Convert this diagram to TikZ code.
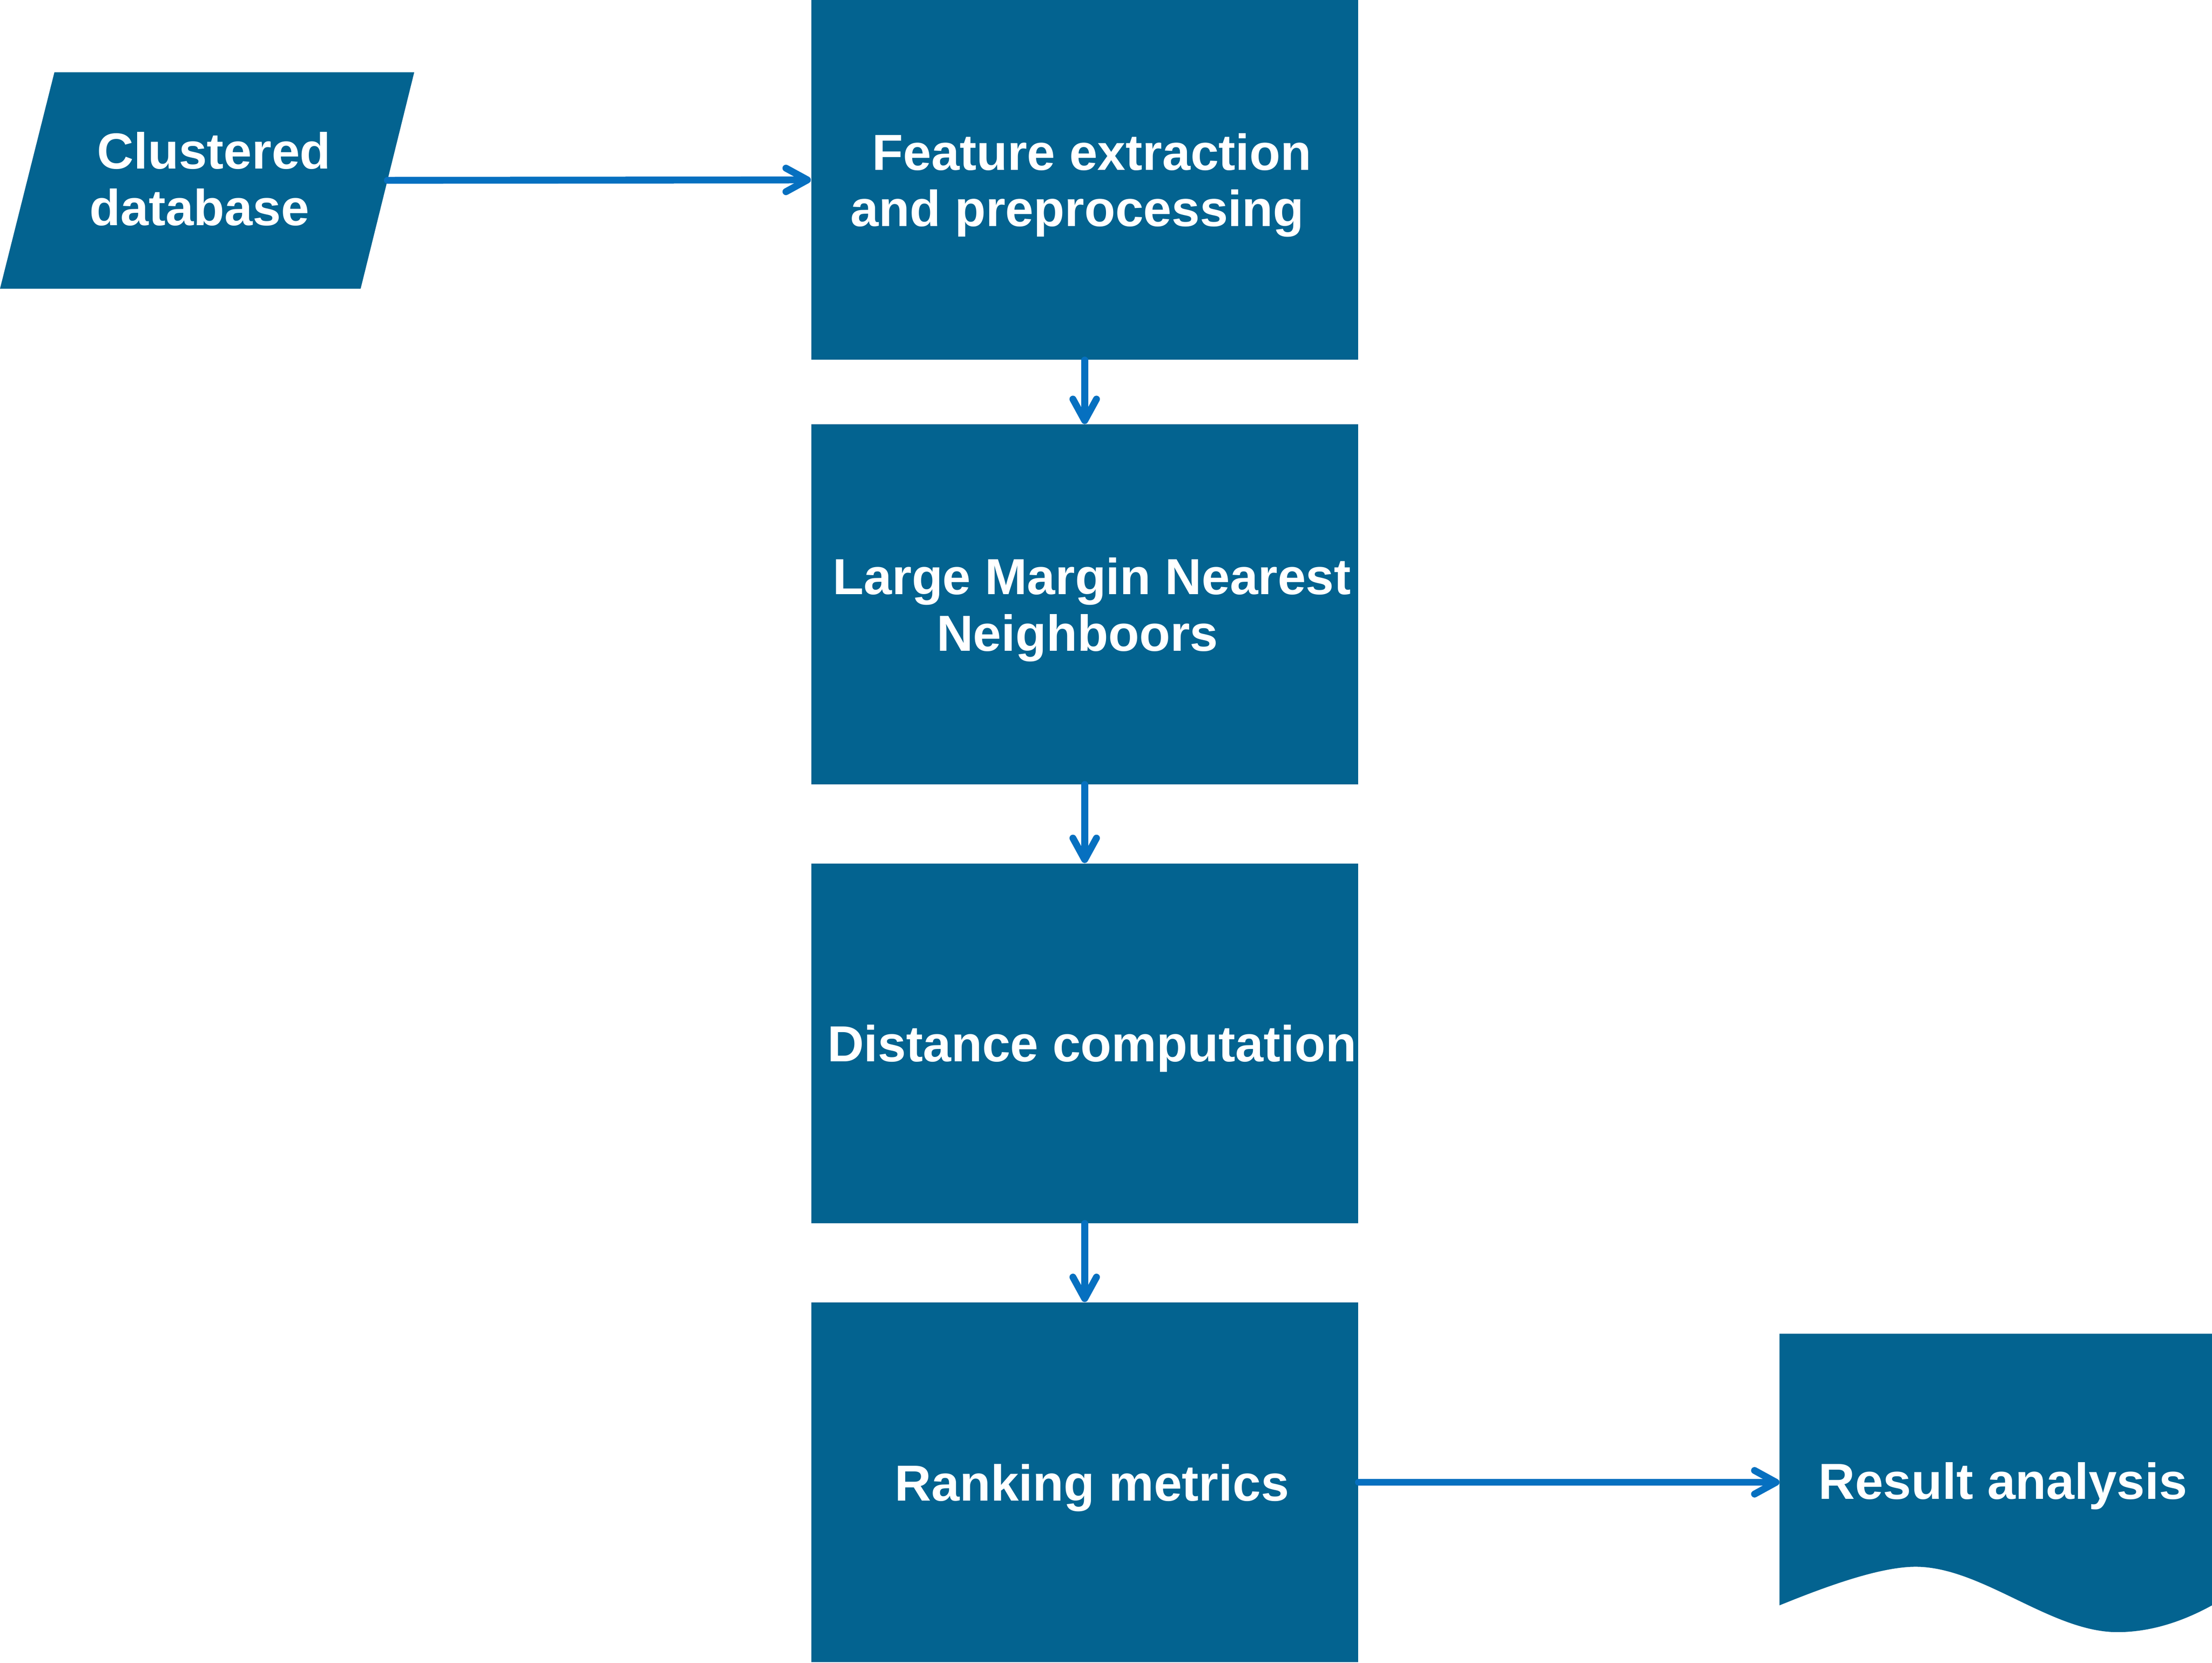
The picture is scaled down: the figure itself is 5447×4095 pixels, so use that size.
\documentclass[tikz,border=0pt]{standalone}
\usepackage{fontspec}
\setmainfont{Liberation Sans}
\usetikzlibrary{arrows.meta}
\definecolor{boxblue}{HTML}{036390}
\definecolor{linkblue}{HTML}{0670C0}
\newcommand{\pad}{\hspace*{3.6mm}}

\begin{document}
\begin{tikzpicture}
  [x=0.1mm,y=-0.1mm,
   every node/.style={text=white,font=\fontsize{35.5}{39.5}\selectfont\bfseries,align=center,inner sep=0pt,text depth=0pt},
   stage/.style={rectangle,fill=boxblue,minimum width=134.7mm,minimum height=88.6mm},
   link/.style={draw=linkblue,line width=1.7mm,line cap=round,-{Straight Barb[length=5.3mm,width=5.8mm,round]}}]
  \useasboundingbox (0,0) rectangle (5447,4095);
  % input and output shapes
  \fill[boxblue] (134,178) -- (1020,178) -- (888,711) -- (0,711) -- cycle;
  \fill[boxblue] (4382,3284) -- (5447,3284) -- (5447,3953)
    .. controls (5380,3990) and (5300,4019) .. (5214,4019)
    .. controls (5050,4019) and (4880,3858) .. (4717,3858)
    .. controls (4630,3858) and (4500,3905) .. (4382,3953) -- cycle;

  \node (db) at (509,440) {\pad Clustered\\database\pad};
  \coordinate (dbE) at (954,444);
  \node[stage] (feat) at (2671,443)  {\pad Feature extraction\\and preprocessing\pad};
  \node[stage] (lmnn) at (2671,1488) {\pad Large Margin Nearest\\Neighboors\pad};
  \node[stage] (dist) at (2671,2569) {\pad Distance computation};
  \node[stage] (rank) at (2671,3650) {\pad Ranking metrics};
  \node (res) at (4914,3646) {\pad Result analysis};
  \coordinate (resW) at (4382,3650);

  \draw[link] (dbE) -- (feat.west);
  \foreach \from/\to in {feat/lmnn,lmnn/dist,dist/rank}
    \draw[link] (\from) -- (\to);
  \draw[link] (rank.east) -- (resW);
\end{tikzpicture}
\end{document}
